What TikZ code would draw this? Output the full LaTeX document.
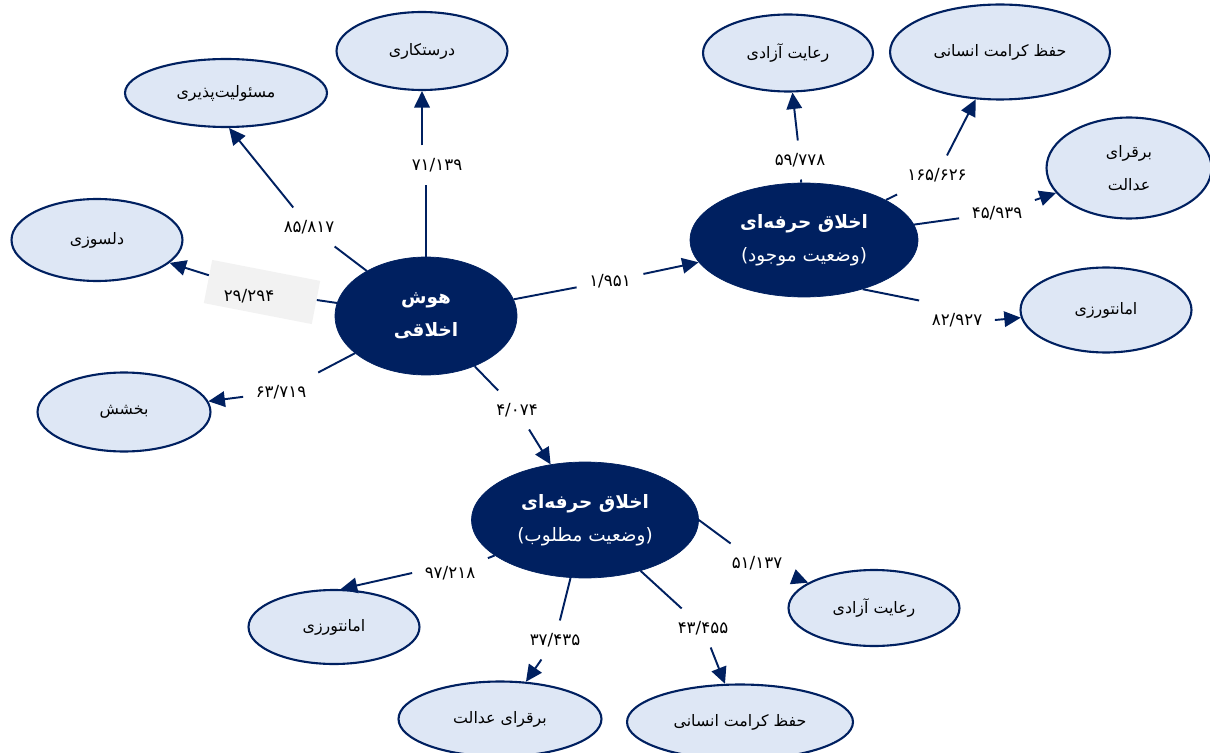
\documentclass[tikz,border=0pt]{standalone}
\usepackage{fontspec}
\usepackage{tikz}
\usetikzlibrary{shapes.geometric,arrows.meta}
\TeXXeTstate=1
\newfontfamily\farsi[Script=Arabic]{DejaVu Sans}
\newcommand{\fa}[1]{{\farsi\beginR #1\endR}}
\definecolor{navy}{RGB}{0,32,96}
\definecolor{paleblue}{RGB}{222,231,245}
\definecolor{boxgray}{RGB}{242,242,242}

\tikzset{
  darknode/.style={ellipse,fill=navy,draw=navy,text=white,inner sep=0pt,align=center,font=\bfseries\fontsize{10.5}{19}\selectfont},
  lightnode/.style={ellipse,fill=paleblue,draw=navy,line width=1.2pt,inner sep=0pt,align=center,font=\fontsize{9}{19}\selectfont},
  numlabel/.style={inner sep=7pt,font=\fontsize{9.5}{11}\selectfont},
  link/.style={draw=navy,line width=1.1pt},
  tip/.style={link,-{Triangle[length=3.3mm,width=3.1mm]}}
}

\begin{document}
\begin{tikzpicture}[x=0.02cm,y=-0.02cm]
  \useasboundingbox (0,0) rectangle (1210,753);

  % main ellipses
  \node[darknode,minimum width=3.64cm,minimum height=2.36cm] (hoosh) at (426,316) {\fa{هوش}\\\fa{اخلاقی}};
  \node[darknode,minimum width=4.56cm,minimum height=2.28cm] (mojud) at (804,240) {\fa{اخلاق حرفه‌ای}\\{\mdseries\fa{(وضعیت موجود)}}};
  \node[darknode,minimum width=4.54cm,minimum height=2.32cm] (matlub) at (585,520) {\fa{اخلاق حرفه‌ای}\\{\mdseries\fa{(وضعیت مطلوب)}}};

  % outer ellipses
  \node[lightnode,minimum width=4.04cm,minimum height=1.36cm] (masuliat) at (226,93) {\fa{مسئولیت‌پذیری}};
  \node[lightnode,minimum width=3.42cm,minimum height=1.56cm] (dorost) at (422,51) {\fa{درستکاری}};
  \node[lightnode,minimum width=3.42cm,minimum height=1.64cm] (delsoozi) at (97,240) {\fa{دلسوزی}};
  \node[lightnode,minimum width=3.46cm,minimum height=1.58cm] (bakhshesh) at (124,412) {\fa{بخشش}};
  \node[lightnode,minimum width=3.40cm,minimum height=1.54cm] (azadiA) at (788,53) {\fa{رعایت آزادی}};
  \node[lightnode,minimum width=4.40cm,minimum height=1.90cm] (keramatA) at (1000,52) {\fa{حفظ کرامت انسانی}};
  \node[lightnode,minimum width=3.30cm,minimum height=2.02cm] (edalatA) at (1129,168) {\fa{برقرای}\\\fa{عدالت}};
  \node[lightnode,minimum width=3.42cm,minimum height=1.70cm] (amanatA) at (1106,310) {\fa{امانتورزی}};
  \node[lightnode,minimum width=3.42cm,minimum height=1.52cm] (azadiB) at (874,608) {\fa{رعایت آزادی}};
  \node[lightnode,minimum width=3.42cm,minimum height=1.48cm] (amanatB) at (334,627) {\fa{امانتورزی}};
  \node[lightnode,minimum width=4.06cm,minimum height=1.50cm] (edalatB) at (500,719) {\fa{برقرای عدالت}};
  \node[lightnode,minimum width=4.52cm,minimum height=1.50cm] (keramatB) at (740,722) {\fa{حفظ کرامت انسانی}};

  % number labels
  \node[fill=boxgray,rotate=-11,minimum width=2.2cm,minimum height=0.88cm] (graybox) at (262,292) {};
  \node[numlabel] (l85) at (309,227) {\farsi ۸۵/۸۱۷};
  \node[numlabel] (l71) at (437,165) {\farsi ۷۱/۱۳۹};
  \node[numlabel] (l29) at (249,296) {\farsi ۲۹/۲۹۴};
  \node[numlabel] (l63) at (281,392) {\farsi ۶۳/۷۱۹};
  \node[numlabel] (l1) at (610,281) {\farsi ۱/۹۵۱};
  \node[numlabel] (l4) at (517,410) {\farsi ۴/۰۷۴};
  \node[numlabel] (l59) at (800,160) {\farsi ۵۹/۷۷۸};
  \node[numlabel] (l165) at (937,175) {\farsi ۱۶۵/۶۲۶};
  \node[numlabel] (l45) at (997,213) {\farsi ۴۵/۹۳۹};
  \node[numlabel] (l82) at (957,320) {\farsi ۸۲/۹۲۷};
  \node[numlabel] (l97) at (450,573) {\farsi ۹۷/۲۱۸};
  \node[numlabel] (l37) at (555,640) {\farsi ۳۷/۴۳۵};
  \node[numlabel] (l43) at (703,628) {\farsi ۴۳/۴۵۵};
  \node[numlabel] (l51) at (757,563) {\farsi ۵۱/۱۳۷};

  % connectors from hoosh
  \draw[link] (hoosh) -- (l85);  \draw[tip] (l85) -- (masuliat.-85);
  \draw[link] (hoosh) -- (hoosh |- l71.south);  \draw[tip] (dorost |- l71.north) -- (dorost);
  \draw[link] (hoosh) -- (graybox); \draw[tip] (graybox) -- (delsoozi);
  \draw[link] (hoosh) -- (l63);  \draw[tip] (l63) -- (bakhshesh);
  \draw[link] (hoosh) -- (l1);   \draw[tip] (l1) -- (mojud);
  \draw[link] (hoosh) -- (l4);   \draw[tip] (l4) -- (matlub);

  % connectors from mojud
  \draw[link] (mojud) -- (l59);  \draw[tip] (l59) -- (azadiA);
  \draw[link] (mojud) -- (l165); \draw[tip] (l165) -- (keramatA);
  \draw[link] (mojud) -- (l45);  \draw[tip] (l45) -- (edalatA);
  \draw[link] (mojud.-40) -- (l82.north west);  \draw[tip] (l82.east) -- (amanatA);

  % connectors from matlub
  \draw[link] (matlub) -- (l97); \draw[tip] (l97.west) -- (amanatB.80);
  \draw[link] (matlub) -- (l37); \draw[tip] (l37) -- (edalatB);
  \draw[link] (matlub) -- (l43); \draw[tip] (l43) -- (keramatB);
  \draw[link] (matlub.east) -- (l51); \draw[tip] (l51) -- (azadiB);
\end{tikzpicture}
\end{document}
